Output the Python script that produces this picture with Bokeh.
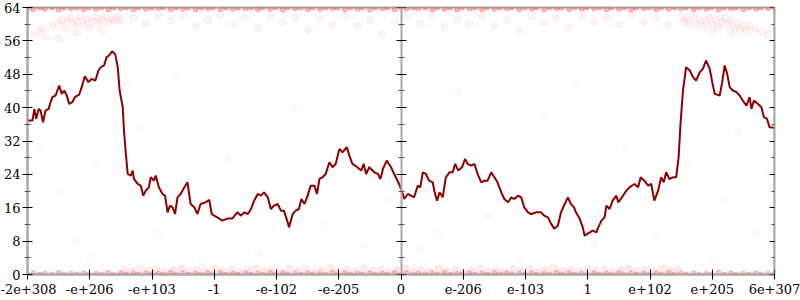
from bokeh.plotting import figure
from bokeh.models import Range1d, LinearAxis, FixedTicker
from bokeh.embed import file_html
from bokeh.resources import INLINE

# ---- data ----
x_tick_pos = [-6, -5, -4, -3, -2, -1, 0, 1, 2, 3, 4, 5, 6]
x_tick_labels = ["-2e+308", "-e+206", "-e+103", "-1", "-e-102", "-e-205", "0",
                 "e-206", "e-103", "1", "e+102", "e+205", "6e+307"]
y_ticks = [0, 8, 16, 24, 32, 40, 48, 56, 64]
y_minor = [4, 12, 20, 28, 36, 44, 52, 60]

line_x = [-6.0, -5.92, -5.89, -5.86, -5.82, -5.79, -5.75, -5.71, -5.66, -5.63, -5.60, -5.55,
          -5.49, -5.45, -5.41, -5.37, -5.33, -5.28, -5.24, -5.17, -5.13, -5.08, -5.02, -4.97,
          -4.91, -4.86, -4.82, -4.77, -4.73, -4.69, -4.64, -4.59, -4.55, -4.52, -4.47, -4.45,
          -4.42, -4.39, -4.34, -4.31, -4.29, -4.23, -4.18, -4.14, -4.10, -4.05, -4.02, -3.97,
          -3.94, -3.89, -3.83, -3.79, -3.75, -3.71, -3.67, -3.63, -3.59, -3.54, -3.48, -3.43,
          -3.38, -3.32, -3.27, -3.22, -3.14, -3.08, -3.04, -3.00, -2.95, -2.87, -2.79, -2.71,
          -2.63, -2.57, -2.52, -2.46, -2.41, -2.36, -2.30, -2.25, -2.20, -2.14, -2.09, -2.04,
          -1.98, -1.93, -1.88, -1.82, -1.80, -1.74, -1.69, -1.64, -1.60, -1.55, -1.50, -1.45,
          -1.39, -1.35, -1.31, -1.26, -1.21, -1.15, -1.10, -1.05, -0.99, -0.94, -0.87, -0.83,
          -0.78, -0.70, -0.64, -0.60, -0.56, -0.51, -0.43, -0.37, -0.33, -0.29, -0.23, -0.16,
          -0.11, -0.03, 0.03, 0.05, 0.11, 0.16, 0.21, 0.27, 0.31, 0.35, 0.40, 0.45,
          0.51, 0.54, 0.58, 0.62, 0.67, 0.72, 0.78, 0.83, 0.87, 0.92, 0.98, 1.03,
          1.07, 1.13, 1.18, 1.23, 1.29, 1.34, 1.39, 1.45, 1.50, 1.55, 1.61, 1.66,
          1.72, 1.77, 1.82, 1.88, 1.93, 1.98, 2.04, 2.09, 2.17, 2.25, 2.30, 2.36,
          2.41, 2.46, 2.52, 2.57, 2.63, 2.68, 2.73, 2.78, 2.81, 2.87, 2.92, 2.95,
          3.00, 3.08, 3.14, 3.16, 3.22, 3.27, 3.30, 3.35, 3.40, 3.46, 3.49, 3.55,
          3.62, 3.67, 3.75, 3.81, 3.85, 3.91, 3.97, 4.02, 4.05, 4.07, 4.13, 4.18,
          4.22, 4.26, 4.31, 4.37, 4.42, 4.46, 4.49, 4.53, 4.58, 4.64, 4.69, 4.74,
          4.80, 4.85, 4.90, 4.96, 5.00, 5.04, 5.12, 5.16, 5.20, 5.24, 5.28, 5.33,
          5.39, 5.44, 5.49, 5.55, 5.60, 5.63, 5.67, 5.73, 5.79, 5.83, 5.88, 5.92, 6.0]
line_y = [36.9, 36.9, 39.7, 37.3, 39.7, 39.3, 36.5, 39.3, 39.7, 41.3, 42.5, 42.9,
          45.3, 43.3, 44.1, 42.9, 40.9, 41.3, 42.5, 43.1, 44.9, 47.5, 46.1, 46.9,
          46.5, 48.9, 49.7, 50.1, 52.1, 52.5, 53.5, 52.7, 49.7, 44.1, 40.1, 34.5,
          28.9, 24.1, 23.7, 24.9, 22.9, 21.7, 21.3, 18.9, 20.1, 20.9, 23.3, 22.5,
          23.7, 20.9, 19.3, 18.9, 14.9, 16.5, 16.1, 14.5, 18.5, 19.3, 20.9, 22.1,
          16.9, 16.1, 14.5, 16.9, 17.3, 17.9, 14.5, 14.1, 13.7, 12.9, 13.4, 13.4,
          14.9, 14.1, 14.9, 14.5, 15.7, 17.7, 19.3, 18.9, 19.7, 18.5, 15.7, 16.5,
          16.9, 15.3, 15.3, 12.5, 11.3, 14.5, 15.3, 15.7, 18.1, 16.9, 18.9, 21.3,
          21.3, 19.3, 22.9, 23.3, 24.1, 26.9, 25.7, 26.5, 30.1, 29.3, 30.5, 28.5,
          26.5, 25.7, 24.9, 26.5, 24.1, 25.7, 24.5, 24.1, 22.9, 25.3, 27.3, 25.7,
          24.1, 21.7, 19.3, 18.1, 19.3, 18.9, 18.5, 21.3, 20.9, 24.5, 24.1, 22.5,
          22.1, 19.7, 17.7, 19.7, 18.5, 23.3, 24.5, 24.5, 26.5, 24.9, 25.7, 27.7,
          26.5, 26.1, 26.5, 24.1, 22.1, 22.5, 22.5, 24.5, 23.3, 22.1, 19.7, 18.1,
          17.3, 18.5, 18.1, 18.9, 18.5, 16.1, 14.9, 14.5, 14.9, 14.9, 14.1, 13.7,
          12.2, 11.0, 11.7, 14.9, 16.9, 18.5, 16.9, 16.1, 14.9, 13.4, 11.3, 9.3,
          9.8, 10.5, 10.1, 11.0, 12.9, 13.7, 16.5, 15.7, 17.7, 18.9, 17.3, 18.5,
          20.1, 20.9, 21.7, 20.9, 23.3, 22.5, 21.3, 21.7, 19.3, 17.7, 20.1, 23.3,
          22.1, 24.5, 22.9, 23.3, 23.3, 28.1, 36.1, 44.1, 49.7, 48.9, 47.3, 46.5,
          48.5, 49.3, 51.3, 49.3, 46.1, 43.3, 42.9, 46.1, 50.1, 48.1, 44.9, 44.1,
          43.7, 42.9, 41.7, 40.5, 42.5, 39.7, 41.7, 40.9, 40.1, 37.7, 37.3, 35.3, 35.2]

top_row_x = [-6.0, -5.91, -5.8, -5.72, -5.61, -5.5, -5.42, -5.3, -5.21, -5.1, -5.02, -4.9,
             -4.81, -4.7, -4.62, -4.5, -4.41, -4.3, -4.22, -4.1, -4.01, -3.9, -3.82, -3.7,
             -3.61, -3.5, -3.42, -3.3, -3.21, -3.1, -3.02, -2.9, -2.81, -2.7, -2.62, -2.5,
             -2.41, -2.3, -2.22, -2.1, -2.01, -1.9, -1.82, -1.7, -1.61, -1.5, -1.42, -1.3,
             -1.21, -1.1, -1.02, -0.9, -0.81, -0.7, -0.62, -0.5, -0.41, -0.3, -0.22, -0.1,
             0.0, 0.09, 0.2, 0.28, 0.39, 0.5, 0.58, 0.7, 0.79, 0.9, 0.98, 1.1,
             1.19, 1.3, 1.38, 1.5, 1.59, 1.7, 1.78, 1.9, 1.99, 2.1, 2.18, 2.3,
             2.39, 2.5, 2.58, 2.7, 2.79, 2.9, 2.98, 3.1, 3.19, 3.3, 3.38, 3.5,
             3.59, 3.7, 3.78, 3.9, 3.99, 4.1, 4.18, 4.3, 4.39, 4.5, 4.58, 4.7,
             4.79, 4.9, 4.98, 5.1, 5.19, 5.3, 5.38, 5.5, 5.59, 5.7, 5.78, 5.9, 6.0]
top_row_y = [64.0, 63.6, 64.0, 63.7, 64.0, 63.5, 64.0, 63.8, 64.0, 63.6, 64.0, 63.7,
             64.0, 63.5, 64.0, 63.8, 64.0, 63.6, 64.0, 63.7, 64.0, 63.8, 64.0, 63.6,
             64.0, 63.7, 64.0, 63.5, 64.0, 63.8, 64.0, 63.6, 64.0, 63.7, 64.0, 63.8,
             64.0, 63.6, 64.0, 63.7, 64.0, 63.5, 64.0, 63.8, 64.0, 63.6, 64.0, 63.7,
             64.0, 63.8, 64.0, 63.6, 64.0, 63.7, 64.0, 63.5, 64.0, 63.8, 64.0, 63.6,
             64.0, 63.7, 64.0, 63.8, 64.0, 63.6, 64.0, 63.7, 64.0, 63.5, 64.0, 63.8,
             64.0, 63.6, 64.0, 63.7, 64.0, 63.8, 64.0, 63.6, 64.0, 63.7, 64.0, 63.5,
             64.0, 63.8, 64.0, 63.6, 64.0, 63.7, 64.0, 63.8, 64.0, 63.6, 64.0, 63.7,
             64.0, 63.5, 64.0, 63.8, 64.0, 63.6, 64.0, 63.7, 64.0, 63.8, 64.0, 63.6,
             64.0, 63.7, 64.0, 63.5, 64.0, 63.8, 64.0, 63.6, 64.0, 63.7, 64.0, 63.8, 64.0]

bottom_row_x = top_row_x
bottom_row_y = [0.0, 0.3, 0.0, 0.2, 0.0, 0.4, 0.0, 0.2, 0.0, 0.3, 0.0, 0.2,
                0.0, 0.4, 0.0, 0.3, 0.0, 0.2, 0.0, 0.3, 0.0, 0.2, 0.0, 0.4,
                0.0, 0.3, 0.0, 0.2, 0.0, 0.3, 0.0, 0.4, 0.0, 0.2, 0.0, 0.3,
                0.0, 0.2, 0.0, 0.4, 0.0, 0.3, 0.0, 0.2, 0.0, 0.3, 0.0, 0.2,
                0.0, 0.4, 0.0, 0.3, 0.0, 0.2, 0.0, 0.3, 0.0, 0.2, 0.0, 0.4,
                0.0, 0.3, 0.0, 0.2, 0.0, 0.3, 0.0, 0.4, 0.0, 0.2, 0.0, 0.3,
                0.0, 0.2, 0.0, 0.4, 0.0, 0.3, 0.0, 0.2, 0.0, 0.3, 0.0, 0.2,
                0.0, 0.4, 0.0, 0.3, 0.0, 0.2, 0.0, 0.3, 0.0, 0.2, 0.0, 0.4,
                0.0, 0.3, 0.0, 0.2, 0.0, 0.3, 0.0, 0.4, 0.0, 0.2, 0.0, 0.3,
                0.0, 0.2, 0.0, 0.4, 0.0, 0.3, 0.0, 0.2, 0.0, 0.3, 0.0, 0.2, 0.0]

band_x = [-4.45, -4.32, -4.2, -4.06, -3.93, -3.8, -3.66, -3.53, -3.4, -3.27, -3.13, -3.0,
          -2.87, -2.73, -2.6, -2.46, -2.33, -2.2, -2.07, -1.93, -1.8, -1.66, -1.53, -1.4,
          -1.27, -1.13, -1.0, -0.87, -0.73, -0.6, -0.46, -0.33, -0.2, -0.07, 0.07, 0.2,
          0.33, 0.46, 0.6, 0.73, 0.87, 1.0, 1.13, 1.27, 1.4, 1.53, 1.66, 1.8,
          1.93, 2.07, 2.2, 2.33, 2.46, 2.6, 2.73, 2.87, 3.0, 3.13, 3.27, 3.4,
          3.53, 3.66, 3.8, 3.93, 4.06, 4.2, 4.32, 4.45]
band_y = [1.1, 0.7, 1.3, 0.9, 1.2, 0.6, 1.0, 1.4, 0.8, 1.1, 0.7, 1.3,
          0.9, 1.2, 0.6, 1.0, 1.4, 0.8, 1.1, 0.7, 1.3, 0.9, 1.2, 0.6,
          1.0, 1.4, 0.8, 1.1, 0.7, 1.3, 0.9, 1.2, 0.6, 1.0, 1.4, 0.8,
          1.1, 0.7, 1.3, 0.9, 1.2, 0.6, 1.0, 1.4, 0.8, 1.1, 0.7, 1.3,
          0.9, 1.2, 0.6, 1.0, 1.4, 0.8, 1.1, 0.7, 1.3, 0.9, 1.2, 0.6,
          1.0, 1.4, 0.8, 1.1, 0.7, 1.3, 0.9, 1.2]

cloud_x = [-5.6, -5.5, -5.45, -5.4, -5.35, -5.3, -5.25, -5.2, -5.15, -5.1, -5.05, -5.0,
           -4.95, -4.9, -4.85, -4.8, -4.75, -4.7, -4.65, -4.6, -4.55, -4.5,
           -5.9, -5.8, -5.7, -5.75, -5.2, -4.8, -5.5,
           -4.3, -4.1, -3.9, -3.7, -3.5, -3.3, -3.1, -2.9, -2.7, -2.5, -2.3, -2.1,
           -1.9, -1.7, -1.5, -1.3, -1.1, -0.9, -0.7, -0.5, -0.3, -0.1, 0.1, 0.3,
           0.5, 0.7, 0.9, 1.1, 1.3, 1.5, 1.7, 1.9, 2.1, 2.3, 2.5, 2.7,
           2.9, 3.1, 3.3, 3.5, 3.7, 3.9, 4.1, 4.3,
           4.5, 4.55, 4.6, 4.65, 4.7, 4.75, 4.8, 4.85, 4.9, 4.95, 5.0, 5.05,
           5.1, 5.15, 5.2, 5.25, 5.3, 5.35, 5.4, 5.45, 5.5, 5.55, 5.6, 5.7,
           5.8, 5.9, 5.0, 5.3]
cloud_y = [59.5, 60.2, 61.0, 59.0, 60.8, 61.5, 59.8, 60.5, 61.8, 60.0, 61.2, 59.2,
           60.7, 61.6, 60.1, 61.0, 61.9, 60.4, 61.3, 60.8, 61.7, 60.9,
           57.5, 58.3, 57.0, 59.0, 58.0, 58.5, 56.5,
           61.5, 60.3, 62.0, 60.8, 61.9, 59.5, 61.0, 62.2, 60.0, 61.4, 59.0, 62.0,
           60.5, 61.6, 58.6, 61.2, 60.0, 62.1, 59.6, 61.0, 57.5, 60.6, 61.8, 60.2,
           62.0, 59.4, 61.3, 60.1, 62.1, 59.7, 61.0, 58.3, 61.9, 60.4, 61.5, 59.2,
           62.0, 60.7, 61.6, 59.9, 62.2, 60.5, 61.4, 59.6,
           61.8, 60.6, 61.3, 59.8, 61.9, 60.2, 61.0, 59.4, 60.7, 61.6, 60.0, 61.1,
           59.3, 60.5, 61.4, 59.9, 60.8, 59.1, 60.2, 58.7, 59.8, 58.4, 59.6, 58.8,
           58.0, 57.6, 58.3, 57.8]

sparse_x = [-5.8, -5.5, -5.2, -5.0, -4.9, -4.6, -4.4, -4.2, -3.9, -3.6, -3.2, -2.8,
            -2.3, -1.7, -1.2, -0.6, -0.2, 0.3, 0.6, 0.9, 1.4, 1.9, 2.3, 2.8,
            3.1, 3.6, 4.1, 4.6, 5.0, 5.2, 5.4, 5.7, 5.9]
sparse_y = [30, 20, 8, 4, 26, 50, 45, 35, 10, 48, 3, 28,
            5, 40, 12, 7, 18, 6, 10, 44, 14, 3, 38, 46,
            7, 30, 9, 27, 4, 18, 34, 10, 24]

# ---- figure ----
FONT = "DejaVu Serif"
p = figure(width=800, height=300, output_backend="svg", toolbar_location=None,
           x_range=Range1d(-6, 6), y_range=Range1d(0, 64),
           min_border_left=27, min_border_right=26, min_border_top=7, min_border_bottom=26,
           background_fill_color="white", border_fill_color="white")
p.grid.visible = False
p.outline_line_color = "#aaaaaa"
p.outline_line_width = 2

RED = "#ff1a1a"
p.scatter(sparse_x, sparse_y, size=7, fill_color=RED, fill_alpha=0.015,
          line_color=RED, line_alpha=0.035)
p.scatter(cloud_x, cloud_y, size=7, fill_color=RED, fill_alpha=0.05,
          line_color=RED, line_alpha=0.06)
p.scatter(band_x, band_y, size=7, fill_color=RED, fill_alpha=0.08,
          line_color=RED, line_alpha=0.08)
p.scatter(top_row_x, top_row_y, size=5, fill_color=RED, fill_alpha=0.3,
          line_color=RED, line_alpha=0.3)
p.scatter(bottom_row_x, bottom_row_y, size=5, fill_color=RED, fill_alpha=0.25,
          line_color=RED, line_alpha=0.25)

p.line(line_x, line_y, line_color="#8b0000", line_width=2)


def style_axis(ax, labels=True):
    ax.axis_line_color = "#aaaaaa"
    ax.axis_line_width = 2
    ax.major_tick_line_color = "black"
    ax.major_tick_line_width = 1
    ax.major_tick_in = 5
    ax.major_tick_out = 5
    ax.minor_tick_line_color = "#555555"
    ax.minor_tick_line_width = 1
    ax.minor_tick_in = 3
    ax.minor_tick_out = 3
    ax.major_label_text_font = FONT
    ax.major_label_text_font_size = "13px"
    ax.major_label_text_color = "black"
    if not labels:
        ax.major_label_text_alpha = 0
        ax.major_label_text_font_size = "0px"


yt = FixedTicker(ticks=y_ticks, minor_ticks=y_minor)
p.yaxis.ticker = yt
style_axis(p.yaxis[0])
p.yaxis.major_label_standoff = 2

p.xaxis.ticker = FixedTicker(ticks=x_tick_pos, minor_ticks=[])
p.xaxis.major_label_overrides = {k: v for k, v in zip(x_tick_pos, x_tick_labels)}
style_axis(p.xaxis[0])
p.xaxis.major_label_standoff = 4

center_axis = LinearAxis(fixed_location=0, ticker=FixedTicker(ticks=y_ticks, minor_ticks=y_minor))
style_axis(center_axis, labels=False)
p.add_layout(center_axis, "left")

right_axis = LinearAxis(fixed_location=6, ticker=FixedTicker(ticks=y_ticks, minor_ticks=y_minor))
style_axis(right_axis, labels=False)
p.add_layout(right_axis, "right")

open("out.html", "w").write(file_html(p, INLINE))
